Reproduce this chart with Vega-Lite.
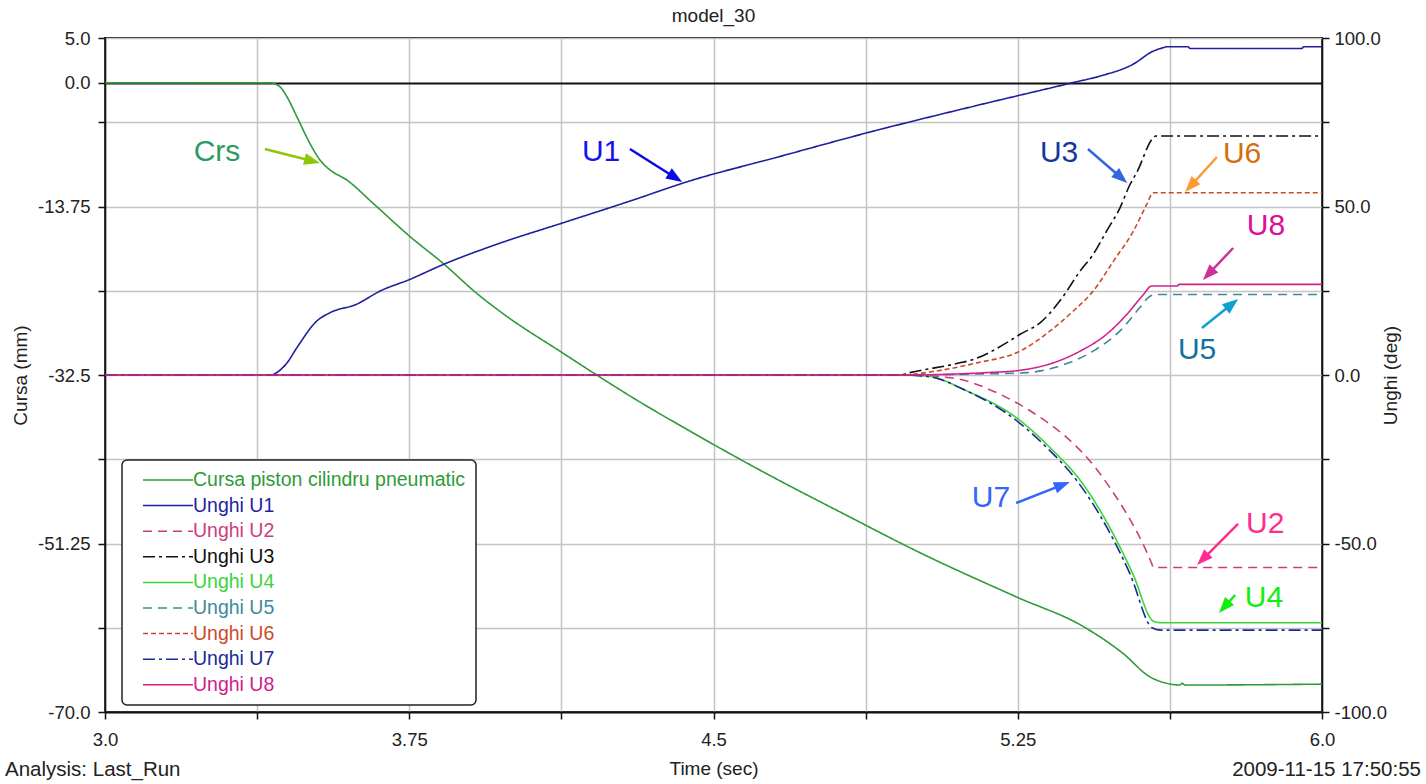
{
  "$schema": "https://vega.github.io/schema/vega-lite/v6.json",
  "width": 1217,
  "height": 674,
  "autosize": {"type": "none"},
  "padding": {"left": 105, "top": 38, "right": 104, "bottom": 72},
  "background": "white",
  "title": {"text": "model_30", "fontSize": 19, "fontWeight": "normal", "font": "Liberation Sans", "color": "#222222", "offset": 3},
  "config": {
    "font": "Liberation Sans",
    "view": {"stroke": "#1a1a1a", "strokeWidth": 2},
    "axis": {"labelFont": "Liberation Sans", "labelFontSize": 18.5, "labelColor": "#222222", "titleFont": "Liberation Sans", "titleFontSize": 19, "titleFontWeight": "normal", "titleColor": "#222222", "tickColor": "#111111", "tickSize": 7, "tickWidth": 1.5, "domainColor": "#111111", "domainWidth": 1.5, "gridColor": "#c4c4c4", "gridWidth": 1.5, "labelFlush": false, "labelOverlap": false}
  },
  "datasets": {
    "crs": [
      {"s": "Cursa piston cilindru pneumatic", "t": 3.0, "v": 0},
      {"s": "Cursa piston cilindru pneumatic", "t": 3.407, "v": 0},
      {"s": "Cursa piston cilindru pneumatic", "t": 3.431, "v": -0.42},
      {"s": "Cursa piston cilindru pneumatic", "t": 3.448, "v": -1.5},
      {"s": "Cursa piston cilindru pneumatic", "t": 3.473, "v": -3.76},
      {"s": "Cursa piston cilindru pneumatic", "t": 3.505, "v": -6.72},
      {"s": "Cursa piston cilindru pneumatic", "t": 3.53, "v": -8.58},
      {"s": "Cursa piston cilindru pneumatic", "t": 3.555, "v": -9.69},
      {"s": "Cursa piston cilindru pneumatic", "t": 3.596, "v": -10.8},
      {"s": "Cursa piston cilindru pneumatic", "t": 3.661, "v": -13.4},
      {"s": "Cursa piston cilindru pneumatic", "t": 3.752, "v": -17.1},
      {"s": "Cursa piston cilindru pneumatic", "t": 3.834, "v": -20.1},
      {"s": "Cursa piston cilindru pneumatic", "t": 3.916, "v": -23.4},
      {"s": "Cursa piston cilindru pneumatic", "t": 3.982, "v": -25.7},
      {"s": "Cursa piston cilindru pneumatic", "t": 4.13, "v": -30.1},
      {"s": "Cursa piston cilindru pneumatic", "t": 4.212, "v": -32.5},
      {"s": "Cursa piston cilindru pneumatic", "t": 4.311, "v": -35.3},
      {"s": "Cursa piston cilindru pneumatic", "t": 4.417, "v": -38.1},
      {"s": "Cursa piston cilindru pneumatic", "t": 4.615, "v": -43.1},
      {"s": "Cursa piston cilindru pneumatic", "t": 4.836, "v": -48.3},
      {"s": "Cursa piston cilindru pneumatic", "t": 5.001, "v": -52.1},
      {"s": "Cursa piston cilindru pneumatic", "t": 5.247, "v": -57.2},
      {"s": "Cursa piston cilindru pneumatic", "t": 5.412, "v": -60.5},
      {"s": "Cursa piston cilindru pneumatic", "t": 5.51, "v": -63.5},
      {"s": "Cursa piston cilindru pneumatic", "t": 5.576, "v": -66.1},
      {"s": "Cursa piston cilindru pneumatic", "t": 5.617, "v": -66.8},
      {"s": "Cursa piston cilindru pneumatic", "t": 5.65, "v": -67.0},
      {"s": "Cursa piston cilindru pneumatic", "t": 5.655, "v": -66.8},
      {"s": "Cursa piston cilindru pneumatic", "t": 5.662, "v": -67.0},
      {"s": "Cursa piston cilindru pneumatic", "t": 6.0, "v": -66.9}
    ],
    "ang": [
      {"s": "Unghi U1", "t": 3.0, "v": 0},
      {"s": "Unghi U1", "t": 3.41, "v": 0},
      {"s": "Unghi U1", "t": 3.423, "v": 0.7},
      {"s": "Unghi U1", "t": 3.448, "v": 3.5},
      {"s": "Unghi U1", "t": 3.473, "v": 8.1},
      {"s": "Unghi U1", "t": 3.522, "v": 16.0},
      {"s": "Unghi U1", "t": 3.555, "v": 18.5},
      {"s": "Unghi U1", "t": 3.62, "v": 21.0},
      {"s": "Unghi U1", "t": 3.678, "v": 24.9},
      {"s": "Unghi U1", "t": 3.752, "v": 28.4},
      {"s": "Unghi U1", "t": 3.834, "v": 32.8},
      {"s": "Unghi U1", "t": 3.966, "v": 38.8},
      {"s": "Unghi U1", "t": 4.13, "v": 45.2},
      {"s": "Unghi U1", "t": 4.294, "v": 51.6},
      {"s": "Unghi U1", "t": 4.442, "v": 57.6},
      {"s": "Unghi U1", "t": 4.65, "v": 64.4},
      {"s": "Unghi U1", "t": 4.886, "v": 72.1},
      {"s": "Unghi U1", "t": 5.15, "v": 80.0},
      {"s": "Unghi U1", "t": 5.391, "v": 86.9},
      {"s": "Unghi U1", "t": 5.453, "v": 88.7},
      {"s": "Unghi U1", "t": 5.534, "v": 92.2},
      {"s": "Unghi U1", "t": 5.584, "v": 96.1},
      {"s": "Unghi U1", "t": 5.608, "v": 97.1},
      {"s": "Unghi U1", "t": 5.618, "v": 97.4},
      {"s": "Unghi U1", "t": 5.67, "v": 97.4},
      {"s": "Unghi U1", "t": 5.675, "v": 96.9},
      {"s": "Unghi U1", "t": 5.95, "v": 96.9},
      {"s": "Unghi U1", "t": 5.955, "v": 97.4},
      {"s": "Unghi U1", "t": 6.0, "v": 97.4},
      {"s": "Unghi U2", "t": 3.0, "v": 0},
      {"s": "Unghi U2", "t": 4.96, "v": 0},
      {"s": "Unghi U2", "t": 5.083, "v": -0.8},
      {"s": "Unghi U2", "t": 5.206, "v": -5.7},
      {"s": "Unghi U2", "t": 5.288, "v": -11.2},
      {"s": "Unghi U2", "t": 5.371, "v": -18.6},
      {"s": "Unghi U2", "t": 5.428, "v": -25.5},
      {"s": "Unghi U2", "t": 5.477, "v": -33.4},
      {"s": "Unghi U2", "t": 5.519, "v": -41.3},
      {"s": "Unghi U2", "t": 5.559, "v": -50.2},
      {"s": "Unghi U2", "t": 5.581, "v": -56.2},
      {"s": "Unghi U2", "t": 5.584, "v": -57.1},
      {"s": "Unghi U2", "t": 6.0, "v": -57.1},
      {"s": "Unghi U3", "t": 3.0, "v": 0},
      {"s": "Unghi U3", "t": 4.96, "v": 0},
      {"s": "Unghi U3", "t": 4.984, "v": 0.7},
      {"s": "Unghi U3", "t": 5.1, "v": 3.4},
      {"s": "Unghi U3", "t": 5.14, "v": 4.6},
      {"s": "Unghi U3", "t": 5.223, "v": 9.6},
      {"s": "Unghi U3", "t": 5.256, "v": 12.1},
      {"s": "Unghi U3", "t": 5.305, "v": 15.5},
      {"s": "Unghi U3", "t": 5.354, "v": 22.0},
      {"s": "Unghi U3", "t": 5.404, "v": 30.9},
      {"s": "Unghi U3", "t": 5.436, "v": 35.8},
      {"s": "Unghi U3", "t": 5.469, "v": 42.7},
      {"s": "Unghi U3", "t": 5.502, "v": 49.6},
      {"s": "Unghi U3", "t": 5.527, "v": 56.6},
      {"s": "Unghi U3", "t": 5.543, "v": 60.0},
      {"s": "Unghi U3", "t": 5.584, "v": 70.4},
      {"s": "Unghi U3", "t": 5.59, "v": 70.9},
      {"s": "Unghi U3", "t": 6.0, "v": 70.9},
      {"s": "Unghi U4", "t": 3.0, "v": 0},
      {"s": "Unghi U4", "t": 4.96, "v": 0},
      {"s": "Unghi U4", "t": 5.026, "v": -0.3},
      {"s": "Unghi U4", "t": 5.124, "v": -4.7},
      {"s": "Unghi U4", "t": 5.247, "v": -12.7},
      {"s": "Unghi U4", "t": 5.33, "v": -21.6},
      {"s": "Unghi U4", "t": 5.411, "v": -32.4},
      {"s": "Unghi U4", "t": 5.477, "v": -45.3},
      {"s": "Unghi U4", "t": 5.534, "v": -59.1},
      {"s": "Unghi U4", "t": 5.584, "v": -73.0},
      {"s": "Unghi U4", "t": 5.601, "v": -73.5},
      {"s": "Unghi U4", "t": 6.0, "v": -73.5},
      {"s": "Unghi U5", "t": 3.0, "v": 0},
      {"s": "Unghi U5", "t": 4.96, "v": 0},
      {"s": "Unghi U5", "t": 5.15, "v": 0.3},
      {"s": "Unghi U5", "t": 5.272, "v": 0.7},
      {"s": "Unghi U5", "t": 5.354, "v": 2.7},
      {"s": "Unghi U5", "t": 5.436, "v": 7.1},
      {"s": "Unghi U5", "t": 5.502, "v": 13.1},
      {"s": "Unghi U5", "t": 5.551, "v": 20.0},
      {"s": "Unghi U5", "t": 5.575, "v": 23.3},
      {"s": "Unghi U5", "t": 5.593, "v": 23.9},
      {"s": "Unghi U5", "t": 6.0, "v": 23.9},
      {"s": "Unghi U6", "t": 3.0, "v": 0},
      {"s": "Unghi U6", "t": 4.96, "v": 0},
      {"s": "Unghi U6", "t": 5.05, "v": 1.2},
      {"s": "Unghi U6", "t": 5.149, "v": 3.6},
      {"s": "Unghi U6", "t": 5.256, "v": 7.1},
      {"s": "Unghi U6", "t": 5.33, "v": 13.1},
      {"s": "Unghi U6", "t": 5.387, "v": 19.0},
      {"s": "Unghi U6", "t": 5.436, "v": 24.9},
      {"s": "Unghi U6", "t": 5.486, "v": 33.8},
      {"s": "Unghi U6", "t": 5.535, "v": 42.7},
      {"s": "Unghi U6", "t": 5.568, "v": 50.6},
      {"s": "Unghi U6", "t": 5.584, "v": 54.1},
      {"s": "Unghi U6", "t": 6.0, "v": 54.1},
      {"s": "Unghi U7", "t": 3.0, "v": 0},
      {"s": "Unghi U7", "t": 4.96, "v": 0},
      {"s": "Unghi U7", "t": 5.026, "v": -0.4},
      {"s": "Unghi U7", "t": 5.124, "v": -4.7},
      {"s": "Unghi U7", "t": 5.238, "v": -12.7},
      {"s": "Unghi U7", "t": 5.322, "v": -21.6},
      {"s": "Unghi U7", "t": 5.396, "v": -31.4},
      {"s": "Unghi U7", "t": 5.47, "v": -45.3},
      {"s": "Unghi U7", "t": 5.527, "v": -59.1},
      {"s": "Unghi U7", "t": 5.581, "v": -75.0},
      {"s": "Unghi U7", "t": 5.601, "v": -75.7},
      {"s": "Unghi U7", "t": 6.0, "v": -75.7},
      {"s": "Unghi U8", "t": 3.0, "v": 0},
      {"s": "Unghi U8", "t": 4.96, "v": 0},
      {"s": "Unghi U8", "t": 5.173, "v": 0.7},
      {"s": "Unghi U8", "t": 5.256, "v": 1.4},
      {"s": "Unghi U8", "t": 5.337, "v": 3.6},
      {"s": "Unghi U8", "t": 5.404, "v": 7.1},
      {"s": "Unghi U8", "t": 5.469, "v": 12.1},
      {"s": "Unghi U8", "t": 5.519, "v": 18.0},
      {"s": "Unghi U8", "t": 5.56, "v": 23.9},
      {"s": "Unghi U8", "t": 5.58, "v": 26.4},
      {"s": "Unghi U8", "t": 5.643, "v": 26.4},
      {"s": "Unghi U8", "t": 5.648, "v": 26.9},
      {"s": "Unghi U8", "t": 6.0, "v": 26.9}
    ],
    "labels": [
      {"lab": "Crs", "t": 3.276, "d": 66.17},
      {"lab": "U1", "t": 4.223, "d": 66.17},
      {"lab": "U3", "t": 5.352, "d": 65.88},
      {"lab": "U6", "t": 5.803, "d": 65.58},
      {"lab": "U8", "t": 5.862, "d": 44.21},
      {"lab": "U5", "t": 5.692, "d": 7.42},
      {"lab": "U7", "t": 5.184, "d": -36.5},
      {"lab": "U2", "t": 5.86, "d": -44.21},
      {"lab": "U4", "t": 5.857, "d": -66.17}
    ],
    "arrows": [
      {"arrow": "Crs arrow", "t1": 3.394, "d1": 67.06, "t2": 3.511, "d2": 63.5, "ang": 14.3},
      {"arrow": "U1 arrow", "t1": 4.294, "d1": 67.06, "t2": 4.406, "d2": 58.55, "ang": 32.4},
      {"arrow": "U3 arrow", "t1": 5.423, "d1": 67.06, "t2": 5.505, "d2": 58.55, "ang": 41.1},
      {"arrow": "U6 arrow", "t1": 5.741, "d1": 64.69, "t2": 5.676, "d2": 56.06, "ang": 132.4},
      {"arrow": "U8 arrow", "t1": 5.781, "d1": 37.69, "t2": 5.72, "d2": 29.92, "ang": 133.2},
      {"arrow": "U5 arrow", "t1": 5.704, "d1": 13.95, "t2": 5.778, "d2": 21.07, "ang": 321.1},
      {"arrow": "U7 arrow", "t1": 5.246, "d1": -37.98, "t2": 5.36, "d2": -32.6, "ang": 338.7},
      {"arrow": "U2 arrow", "t1": 5.793, "d1": -44.21, "t2": 5.706, "d2": -54.68, "ang": 135},
      {"arrow": "U4 arrow", "t1": 5.786, "d1": -65.28, "t2": 5.759, "d2": -68.84, "ang": 131.6}
    ],
    "footL": [{"txt": "Analysis: Last_Run", "t": 2.7535, "d": -117.2}],
    "footR": [{"txt": "2009-11-15 17:50:55", "t": 6.244, "d": -117.2}]
  },
  "layer": [
    {
      "data": {"name": "crs"},
      "mark": {"type": "line", "strokeWidth": 1.6, "interpolate": "monotone"},
      "encoding": {
        "x": {"field": "t", "type": "quantitative", "scale": {"domain": [3, 6], "nice": false, "zero": false},
          "axis": {"values": [3, 3.375, 3.75, 4.125, 4.5, 4.875, 5.25, 5.625, 6], "title": "Time (sec)", "grid": true, "labelPadding": 11, "titlePadding": 11, "domainWidth": 2,
            "labelExpr": "indexof([3, 3.75, 4.5, 5.25, 6], datum.value) >= 0 ? (datum.value == 3.75 || datum.value == 5.25 ? format(datum.value, '.2f') : format(datum.value, '.1f')) : ''"}},
        "y": {"field": "v", "type": "quantitative", "scale": {"domain": [-70, 5], "nice": false, "zero": false},
          "axis": {"orient": "left", "values": [5, 0, -4.375, -13.75, -23.125, -32.5, -41.875, -51.25, -60.625, -70], "title": "Cursa (mm)", "grid": true,
            "gridColor": {"condition": {"test": "datum.value == 0", "value": "#111111"}, "value": "#c4c4c4"},
            "gridWidth": {"condition": {"test": "datum.value == 0", "value": 2}, "value": 1.5},
            "labelPadding": 8,
            "labelExpr": "replace(datum.value == -13.75 || datum.value == -51.25 ? format(datum.value, '.2f') : (datum.value == 5 || datum.value == 0 || datum.value == -32.5 || datum.value == -70 ? format(datum.value, '.1f') : ''), '\u2212', '-')",
            "titleX": -85, "titleY": 337, "titleAngle": 270, "titleBaseline": "middle", "titleAlign": "center"}},
        "color": {"field": "s", "type": "nominal",
          "scale": {"domain": ["Cursa piston cilindru pneumatic", "Unghi U1", "Unghi U2", "Unghi U3", "Unghi U4", "Unghi U5", "Unghi U6", "Unghi U7", "Unghi U8"],
            "range": ["#2f9a3a", "#1f1f9e", "#cc3d80", "#111111", "#3bd43b", "#3e8a9c", "#cc4a2a", "#1a2a96", "#d0208c"]},
          "legend": {"title": null, "orient": "none", "legendX": 17, "legendY": 422, "columns": 1, "symbolType": "stroke", "symbolSize": 2500, "symbolStrokeWidth": 1.5, "clipHeight": 20, "rowPadding": 5.6, "padding": 10, "symbolOffset": 10, "labelOffset": -1, "labelLimit": 500, "labelFontSize": 19.5, "labelFont": "Liberation Sans", "fillColor": "white", "strokeColor": "#222222", "cornerRadius": 5,
            "encode": {"labels": {"update": {"fill": {"signal": "scale('color', datum.value)"}}}, "legend": {"update": {"strokeWidth": {"value": 1.5}}}}}},
        "strokeDash": {"field": "s", "type": "nominal",
          "scale": {"domain": ["Cursa piston cilindru pneumatic", "Unghi U1", "Unghi U2", "Unghi U3", "Unghi U4", "Unghi U5", "Unghi U6", "Unghi U7", "Unghi U8"],
            "range": [[1, 0], [1, 0], [9, 6], [12, 4, 3, 4], [1, 0], [9, 6], [5, 3], [12, 4, 3, 4], [1, 0]]},
          "legend": {"title": null, "orient": "none", "legendX": 17, "legendY": 422, "columns": 1, "symbolType": "stroke", "symbolSize": 2500, "symbolStrokeWidth": 1.5, "clipHeight": 20, "rowPadding": 5.6, "padding": 10, "symbolOffset": 10, "labelOffset": -1, "labelLimit": 500, "labelFontSize": 19.5, "labelFont": "Liberation Sans", "fillColor": "white", "strokeColor": "#222222", "cornerRadius": 5,
            "encode": {"labels": {"update": {"fill": {"signal": "scale('color', datum.value)"}}}, "legend": {"update": {"strokeWidth": {"value": 1.5}}}}}}
      }
    },
    {
      "data": {"name": "ang"},
      "mark": {"type": "line", "strokeWidth": 1.6, "interpolate": "monotone"},
      "encoding": {
        "x": {"field": "t", "type": "quantitative", "scale": {"domain": [3, 6], "nice": false, "zero": false}},
        "y": {"field": "v", "type": "quantitative", "scale": {"domain": [-100, 100], "nice": false, "zero": false},
          "axis": {"orient": "right", "values": [100, 75, 50, 25, 0, -25, -50, -75, -100], "title": "Unghi (deg)", "grid": false, "labelPadding": 5,
            "labelExpr": "replace(datum.value % 50 == 0 ? format(datum.value, '.1f') : '', '\u2212', '-')",
            "titleX": 68, "titleY": 337, "titleAngle": 270, "titleBaseline": "middle", "titleAlign": "center"}},
        "color": {"field": "s", "type": "nominal",
          "scale": {"domain": ["Cursa piston cilindru pneumatic", "Unghi U1", "Unghi U2", "Unghi U3", "Unghi U4", "Unghi U5", "Unghi U6", "Unghi U7", "Unghi U8"],
            "range": ["#2f9a3a", "#1f1f9e", "#cc3d80", "#111111", "#3bd43b", "#3e8a9c", "#cc4a2a", "#1a2a96", "#d0208c"]}},
        "strokeDash": {"field": "s", "type": "nominal",
          "scale": {"domain": ["Cursa piston cilindru pneumatic", "Unghi U1", "Unghi U2", "Unghi U3", "Unghi U4", "Unghi U5", "Unghi U6", "Unghi U7", "Unghi U8"],
            "range": [[1, 0], [1, 0], [9, 6], [12, 4, 3, 4], [1, 0], [9, 6], [5, 3], [12, 4, 3, 4], [1, 0]]}}
      }
    },
    {
      "data": {"name": "arrows"},
      "mark": {"type": "rule", "strokeWidth": 2.5},
      "encoding": {
        "x": {"field": "t1", "type": "quantitative", "scale": {"domain": [3, 6], "nice": false, "zero": false}},
        "x2": {"field": "t2"},
        "y": {"field": "d1", "type": "quantitative", "scale": {"domain": [-100, 100], "nice": false, "zero": false}, "axis": null},
        "y2": {"field": "d2"},
        "stroke": {"field": "arrow", "type": "nominal", "legend": null,
          "scale": {"domain": ["Crs arrow", "U1 arrow", "U3 arrow", "U6 arrow", "U8 arrow", "U5 arrow", "U7 arrow", "U2 arrow", "U4 arrow"],
            "range": ["#8cc80a", "#0a0ae6", "#3366dd", "#ff9a33", "#cc3399", "#10a0d0", "#3366ff", "#ff2d8f", "#11ee11"]}}
      }
    },
    {
      "data": {"name": "arrows"},
      "mark": {"type": "point", "shape": "M-1,-0.75L1,0L-1,0.75Z", "filled": true, "size": 256, "opacity": 1, "strokeWidth": 0},
      "encoding": {
        "x": {"field": "t2", "type": "quantitative", "scale": {"domain": [3, 6], "nice": false, "zero": false}},
        "y": {"field": "d2", "type": "quantitative", "scale": {"domain": [-100, 100], "nice": false, "zero": false}, "axis": null},
        "angle": {"field": "ang", "type": "quantitative", "scale": null},
        "fill": {"field": "arrow", "type": "nominal", "legend": null,
          "scale": {"domain": ["Crs", "U1", "U3", "U6", "U8", "U5", "U7", "U2", "U4", "Crs arrow", "U1 arrow", "U3 arrow", "U6 arrow", "U8 arrow", "U5 arrow", "U7 arrow", "U2 arrow", "U4 arrow"],
            "range": ["#2e9a63", "#1414f0", "#12399a", "#d2700f", "#dc0f99", "#1670a0", "#3366ff", "#ff2d8f", "#11ee11", "#8cc80a", "#0a0ae6", "#3366dd", "#ff9a33", "#cc3399", "#10a0d0", "#3366ff", "#ff2d8f", "#11ee11"]}}
      }
    },
    {
      "data": {"name": "labels"},
      "mark": {"type": "text", "fontSize": 30, "font": "Liberation Sans", "align": "center", "baseline": "middle"},
      "encoding": {
        "x": {"field": "t", "type": "quantitative", "scale": {"domain": [3, 6], "nice": false, "zero": false}},
        "y": {"field": "d", "type": "quantitative", "scale": {"domain": [-100, 100], "nice": false, "zero": false}, "axis": null},
        "text": {"field": "lab"},
        "fill": {"field": "lab", "type": "nominal", "legend": null,
          "scale": {"domain": ["Crs", "U1", "U3", "U6", "U8", "U5", "U7", "U2", "U4", "Crs arrow", "U1 arrow", "U3 arrow", "U6 arrow", "U8 arrow", "U5 arrow", "U7 arrow", "U2 arrow", "U4 arrow"],
            "range": ["#2e9a63", "#1414f0", "#12399a", "#d2700f", "#dc0f99", "#1670a0", "#3366ff", "#ff2d8f", "#11ee11", "#8cc80a", "#0a0ae6", "#3366dd", "#ff9a33", "#cc3399", "#10a0d0", "#3366ff", "#ff2d8f", "#11ee11"]}}
      }
    },
    {
      "data": {"name": "footL"},
      "mark": {"type": "text", "fontSize": 20.5, "font": "Liberation Sans", "align": "left", "baseline": "middle", "color": "#222222"},
      "encoding": {
        "x": {"field": "t", "type": "quantitative", "scale": {"domain": [3, 6], "nice": false, "zero": false}},
        "y": {"field": "d", "type": "quantitative", "scale": {"domain": [-100, 100], "nice": false, "zero": false}, "axis": null},
        "text": {"field": "txt"}
      }
    },
    {
      "data": {"name": "footR"},
      "mark": {"type": "text", "fontSize": 20.5, "font": "Liberation Sans", "align": "right", "baseline": "middle", "color": "#222222"},
      "encoding": {
        "x": {"field": "t", "type": "quantitative", "scale": {"domain": [3, 6], "nice": false, "zero": false}},
        "y": {"field": "d", "type": "quantitative", "scale": {"domain": [-100, 100], "nice": false, "zero": false}, "axis": null},
        "text": {"field": "txt"}
      }
    }
  ],
  "resolve": {"scale": {"y": "independent"}}
}
